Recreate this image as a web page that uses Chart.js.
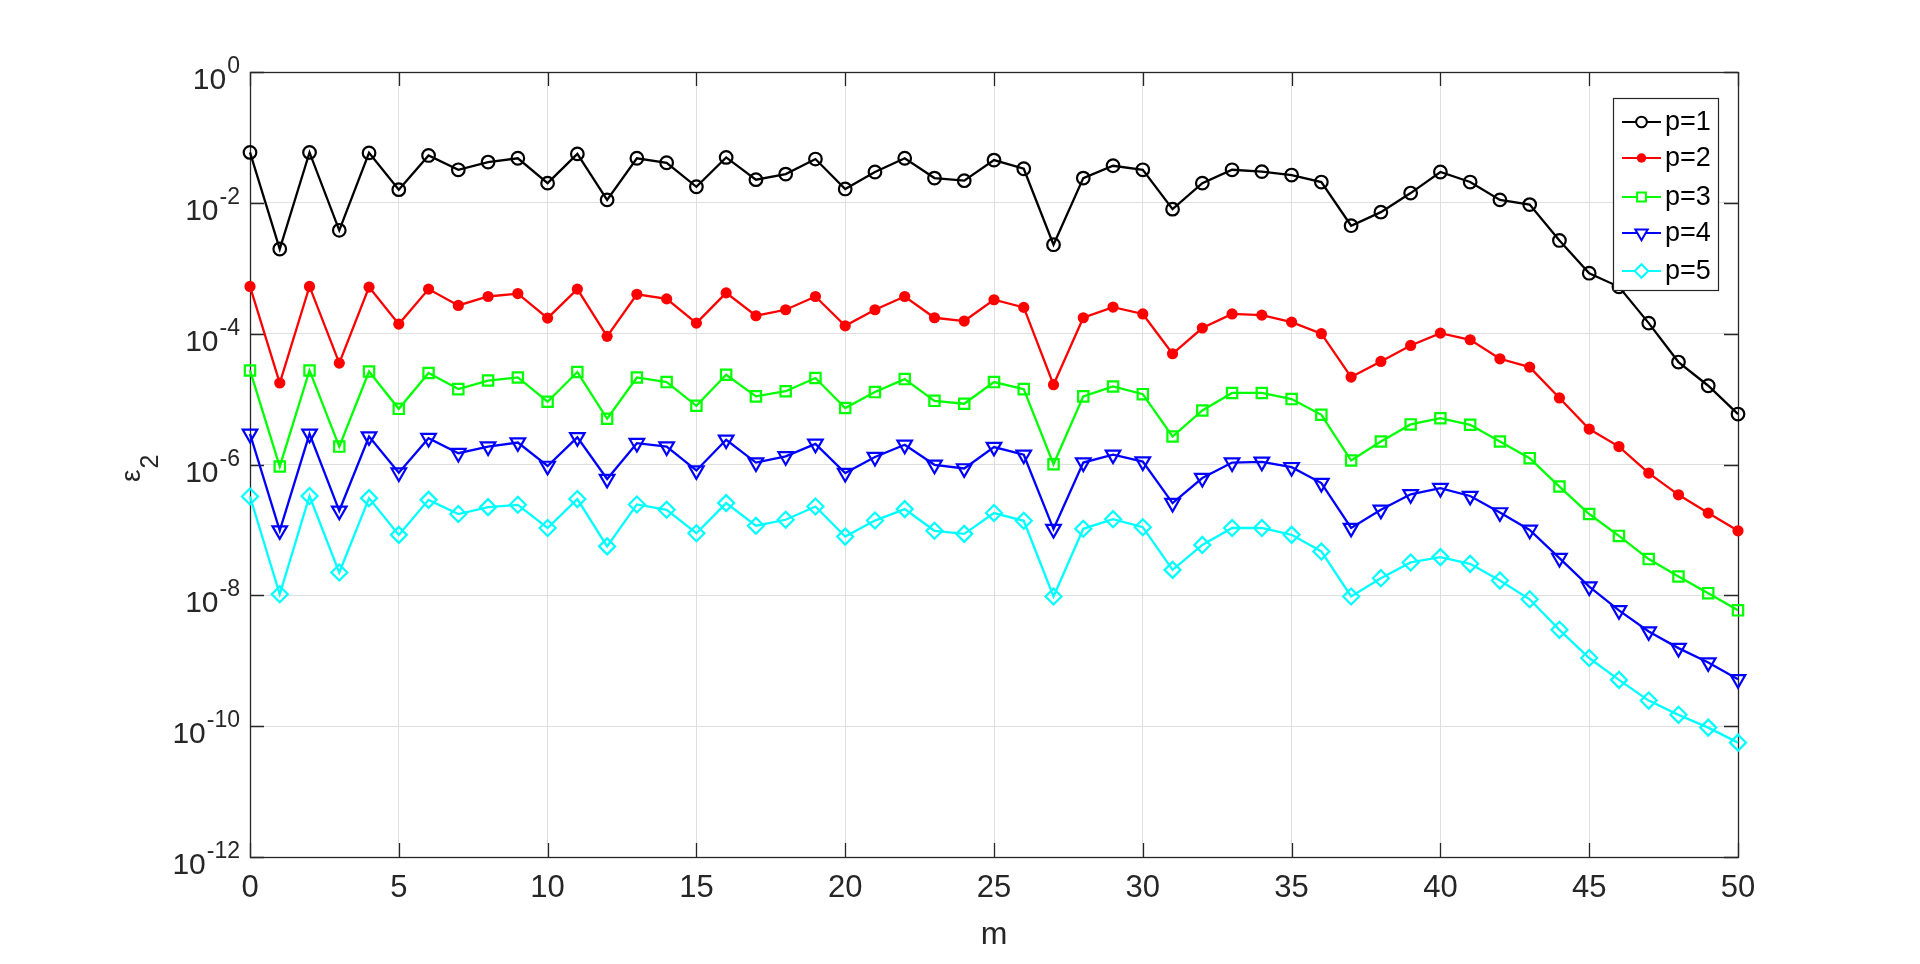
<!DOCTYPE html>
<html><head><meta charset="utf-8">
<script src="https://cdn.jsdelivr.net/npm/chart.js@4/dist/chart.umd.min.js"></script>
<style>html,body{margin:0;padding:0;background:#fff;overflow:hidden}#wrap{width:1920px;height:964px;position:relative}</style>
</head><body><div id="wrap"><canvas id="c"></canvas></div>
<script>
// ---- data ----
const M = [0,1,2,3,4,5,6,7,8,9,10,11,12,13,14,15,16,17,18,19,20,21,22,23,24,25,26,27,28,29,30,31,32,33,34,35,36,37,38,39,40,41,42,43,44,45,46,47,48,49,50];
const P1 = [0.059,0.00197,0.059,0.0038,0.058,0.0159,0.053,0.032,0.042,0.048,0.020,0.056,0.0111,0.048,0.041,0.0176,0.0495,0.0226,0.0275,0.0467,0.0163,0.0296,0.048,0.0239,0.0218,0.045,0.0332,0.00229,0.0239,0.0369,0.032,0.0080,0.020,0.032,0.030,0.0266,0.0208,0.00447,0.0072,0.0141,0.0296,0.0208,0.0111,0.0094,0.00266,0.00084,0.00052,0.000145,3.68e-5,1.6e-5,5.9e-6];
const P2 = [5.27e-4,1.76e-5,5.27e-4,3.55e-5,5.15e-4,1.40e-4,4.8e-4,2.7e-4,3.7e-4,4.1e-4,1.73e-4,4.8e-4,9.1e-5,4.0e-4,3.4e-4,1.45e-4,4.2e-4,1.88e-4,2.32e-4,3.7e-4,1.32e-4,2.32e-4,3.7e-4,1.75e-4,1.56e-4,3.3e-4,2.52e-4,1.66e-5,1.75e-4,2.55e-4,2.0e-4,4.93e-5,1.22e-4,2.0e-4,1.92e-4,1.5e-4,1.0e-4,2.17e-5,3.76e-5,6.6e-5,1.02e-4,8.07e-5,4.13e-5,3.08e-5,1.04e-5,3.48e-6,1.88e-6,7.4e-7,3.44e-7,1.81e-7,9.7e-8];
const P3 = [2.74e-5,9.3e-7,2.74e-5,1.88e-6,2.64e-5,7.1e-6,2.5e-5,1.42e-5,1.92e-5,2.14e-5,9.1e-6,2.59e-5,5.0e-6,2.14e-5,1.82e-5,7.9e-6,2.35e-5,1.1e-5,1.32e-5,2.1e-5,7.3e-6,1.28e-5,2.02e-5,9.4e-6,8.5e-6,1.82e-5,1.42e-5,1.01e-6,1.1e-5,1.56e-5,1.19e-5,2.68e-6,6.7e-6,1.24e-5,1.24e-5,1.0e-5,5.75e-6,1.15e-6,2.25e-6,4.1e-6,5.1e-6,4.05e-6,2.25e-6,1.25e-6,4.6e-7,1.75e-7,8.1e-8,3.58e-8,1.94e-8,1.08e-8,5.9e-9];
const P4 = [2.94e-6,9.8e-8,2.94e-6,1.96e-7,2.68e-6,7.5e-7,2.53e-6,1.49e-6,1.88e-6,2.17e-6,9.5e-7,2.6e-6,6.0e-7,2.12e-6,1.88e-6,8.1e-7,2.39e-6,1.07e-6,1.33e-6,2.07e-6,7.4e-7,1.3e-6,2.0e-6,9.9e-7,8.7e-7,1.85e-6,1.41e-6,1.03e-7,1.07e-6,1.41e-6,1.11e-6,2.57e-7,6.2e-7,1.07e-6,1.1e-6,9.1e-7,5.2e-7,1.07e-7,2.03e-7,3.5e-7,4.35e-7,3.3e-7,1.85e-7,1.0e-7,3.7e-8,1.36e-8,5.9e-9,2.8e-9,1.56e-9,9.4e-10,5.2e-10];
const P5 = [3.24e-7,1.04e-8,3.3e-7,2.23e-8,3.06e-7,8.4e-8,2.88e-7,1.75e-7,2.23e-7,2.42e-7,1.07e-7,2.96e-7,5.6e-8,2.45e-7,2.03e-7,8.9e-8,2.57e-7,1.16e-7,1.43e-7,2.28e-7,7.9e-8,1.39e-7,2.08e-7,9.7e-8,8.7e-8,1.81e-7,1.38e-7,9.6e-9,1.04e-7,1.46e-7,1.1e-7,2.45e-8,5.9e-8,1.07e-7,1.07e-7,8.4e-8,4.68e-8,9.6e-9,1.83e-8,3.18e-8,3.84e-8,3.03e-8,1.68e-8,8.7e-9,2.97e-9,1.1e-9,5.1e-10,2.46e-10,1.49e-10,9.5e-11,5.6e-11];
const SERIES_LABELS = ['p=1','p=2','p=3','p=4','p=5'];
const X_TICKS = [0,5,10,15,20,25,30,35,40,45,50];
const Y_TICK_EXP = [0,-2,-4,-6,-8,-10,-12];
const X_TITLE = 'm';

// ---- styling ----
const FONT = '"Liberation Sans", Arial, Helvetica, sans-serif';
const AX = '#262626';
const GRID = '#dfdfdf';

function pts(arr){ return M.map((m,i)=>({x:m, y:arr[i]})); }

const styles = [
  {color:'#000000', pointStyle:'circle',   r:6.3, filled:false, rot:0},
  {color:'#ff0000', pointStyle:'circle',   r:5.6, filled:true,  rot:0},
  {color:'#00ff00', pointStyle:'rect',     r:7.3, filled:false, rot:0},
  {color:'#0000ff', pointStyle:'triangle', r:8.4, filled:false, rot:180},
  {color:'#00ffff', pointStyle:'rectRot',  r:8,   filled:false, rot:0}
];
const ALL = [P1,P2,P3,P4,P5];

const datasets = ALL.map((arr,i)=>{
  const s = styles[i];
  return {
    label: SERIES_LABELS[i],
    data: pts(arr),
    borderColor: s.color,
    borderWidth: 2.3,
    pointStyle: s.pointStyle,
    pointRadius: s.r,
    pointHoverRadius: s.r,
    pointRotation: s.rot,
    pointBorderWidth: s.filled ? 0 : 2.2,
    pointBorderColor: s.color,
    pointBackgroundColor: s.filled ? s.color : 'rgba(0,0,0,0)',
    tension: 0,
    fill: false,
    clip: 20,
    order: 5 - i
  };
});

function legendMarker(ctx, s, x, y){
  const r = s.r * 0.85;
  ctx.save();
  ctx.strokeStyle = s.color; ctx.fillStyle = s.color; ctx.lineWidth = 2;
  ctx.beginPath();
  if (s.pointStyle === 'circle') { ctx.arc(x, y, r, 0, Math.PI*2); }
  else if (s.pointStyle === 'rect') { const h = r*Math.SQRT1_2; ctx.rect(x-h, y-h, 2*h, 2*h); }
  else if (s.pointStyle === 'triangle') {
    ctx.moveTo(x, y + r); ctx.lineTo(x - r*Math.sin(Math.PI/3), y - r*0.5); ctx.lineTo(x + r*Math.sin(Math.PI/3), y - r*0.5); ctx.closePath();
  }
  else if (s.pointStyle === 'rectRot') { ctx.moveTo(x, y-r); ctx.lineTo(x+r, y); ctx.lineTo(x, y+r); ctx.lineTo(x-r, y); ctx.closePath(); }
  if (s.filled) ctx.fill(); else { ctx.fillStyle = '#fff'; ctx.fill(); ctx.stroke(); }
  ctx.restore();
}

const decor = {
  id: 'decor',
  beforeDatasetsDraw(chart){
    const {ctx, chartArea:a, scales} = chart;
    ctx.save();
    ctx.strokeStyle = AX; ctx.lineWidth = 1.3;
    const TL = 14;
    ctx.beginPath();
    X_TICKS.forEach(v=>{
      const x = Math.round(scales.x.getPixelForValue(v)) + 0.5;
      ctx.moveTo(x, a.bottom); ctx.lineTo(x, a.bottom - TL);
      ctx.moveTo(x, a.top); ctx.lineTo(x, a.top + TL);
    });
    Y_TICK_EXP.forEach(e=>{
      const y = Math.round(scales.y.getPixelForValue(Math.pow(10,e))) + 0.5;
      ctx.moveTo(a.left, y); ctx.lineTo(a.left + TL, y);
      ctx.moveTo(a.right, y); ctx.lineTo(a.right - TL, y);
    });
    ctx.stroke();
    ctx.strokeRect(Math.round(a.left)+0.5, Math.round(a.top)+0.5, Math.round(a.right-a.left), Math.round(a.bottom-a.top));
    ctx.restore();
  },
  afterDraw(chart){
    const {ctx, chartArea:a, scales} = chart;
    ctx.save();
    ctx.fillStyle = AX;
    Y_TICK_EXP.forEach(e=>{
      const y = scales.y.getPixelForValue(Math.pow(10,e));
      const sup = String(e);
      ctx.font = '23px ' + FONT;
      ctx.textAlign = 'right'; ctx.textBaseline = 'alphabetic';
      const sw = ctx.measureText(sup).width;
      const xr = a.left - 10;
      ctx.fillText(sup, xr, y + 1);
      ctx.font = '30px ' + FONT;
      ctx.fillText('10', xr - sw - 1, y + 17);
    });
    ctx.font = '32px ' + FONT;
    ctx.textAlign = 'center'; ctx.textBaseline = 'alphabetic';
    ctx.fillText(X_TITLE, (a.left + a.right)/2, 944);
    ctx.save();
    ctx.translate(140, 482);
    ctx.rotate(-Math.PI/2);
    ctx.textAlign = 'left';
    ctx.font = '28px ' + FONT;
    ctx.fillText('\u03B5', 0, 0);
    const ew = ctx.measureText('\u03B5').width;
    ctx.font = '25px ' + FONT;
    ctx.fillText('2', ew + 1, 18);
    ctx.restore();
    const L = {x:1613, y:98, w:105, h:192};
    ctx.fillStyle = '#fff';
    ctx.fillRect(L.x, L.y, L.w, L.h);
    ctx.strokeStyle = AX; ctx.lineWidth = 1.2;
    ctx.strokeRect(L.x + 0.5, L.y + 0.5, L.w, L.h);
    const rows = [122, 158, 197, 233, 271];
    SERIES_LABELS.forEach((lab,i)=>{
      const s = styles[i], y = rows[i];
      ctx.strokeStyle = s.color; ctx.lineWidth = 2.2;
      ctx.beginPath(); ctx.moveTo(1622, y); ctx.lineTo(1661, y); ctx.stroke();
      legendMarker(ctx, s, 1641.5, y);
      ctx.fillStyle = '#000';
      ctx.font = '27px ' + FONT;
      ctx.textAlign = 'left'; ctx.textBaseline = 'middle';
      ctx.fillText(lab, 1665, y + 1);
    });
    ctx.restore();
  }
};

new Chart(document.getElementById('c'), {
  type: 'line',
  data: { datasets },
  options: {
    responsive: true,
    maintainAspectRatio: false,
    animation: false,
    events: [],
    layout: { padding: { top: 72, right: 182, left: 0, bottom: 0 } },
    plugins: { legend: { display: false }, tooltip: { enabled: false } },
    scales: {
      x: {
        type: 'linear', min: 0, max: 50,
        afterBuildTicks: (s) => { s.ticks = X_TICKS.map(v=>({value:v})); },
        afterFit: (s) => { s.height = 107; },
        grid: { color: GRID, lineWidth: 1, drawTicks: false },
        border: { display: false },
        ticks: { color: AX, font: { size: 31, family: FONT }, padding: 13, maxRotation: 0, autoSkip: false }
      },
      y: {
        type: 'logarithmic', min: 1e-12, max: 1,
        afterBuildTicks: (s) => { s.ticks = Y_TICK_EXP.map(e=>({value:Math.pow(10,e)})); },
        afterFit: (s) => { s.width = 250; },
        grid: { color: GRID, lineWidth: 1, drawTicks: false },
        border: { display: false },
        ticks: { display: false }
      }
    }
  },
  plugins: [decor]
});
</script>
</body></html>
